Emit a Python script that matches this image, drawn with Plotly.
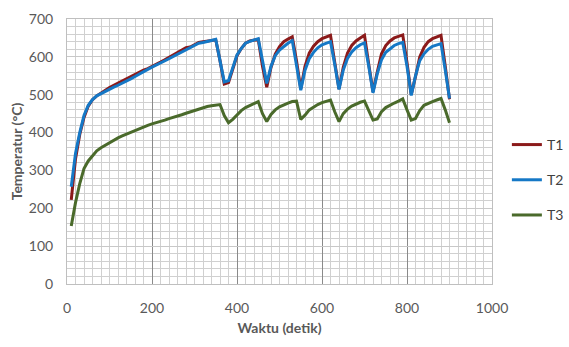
import plotly.graph_objects as go

time_s = list(range(10, 901, 10))

T1 = [222, 330, 395, 440, 470, 487, 497, 505, 513, 519,
      525, 531, 537, 543, 549, 555, 560, 565, 569, 574,
      580, 586, 592, 598, 605, 612, 618, 624, 626, 632,
      638, 640, 642, 644, 645, 590, 528, 532, 568, 603,
      622, 636, 642, 645, 646, 575, 520, 572, 607, 627,
      640, 647, 653, 590, 515, 575, 610, 628, 640, 648,
      653, 657, 585, 515, 572, 610, 630, 642, 650, 657,
      580, 508, 560, 608, 630, 642, 650, 655, 658, 585,
      500, 548, 600, 625, 640, 648, 653, 657, 575, 488]

T2 = [257, 345, 400, 445, 472, 487, 497, 503, 510, 515,
      520, 525, 530, 536, 542, 548, 555, 561, 567, 573,
      578, 583, 589, 595, 601, 607, 613, 618, 623, 630,
      636, 638, 640, 643, 646, 590, 534, 537, 570, 605,
      622, 636, 641, 645, 648, 590, 530, 575, 603, 618,
      628, 636, 643, 580, 512, 565, 595, 612, 624, 632,
      637, 640, 580, 514, 565, 596, 613, 624, 632, 637,
      575, 505, 555, 592, 612, 622, 630, 635, 638, 575,
      498, 550, 590, 608, 620, 628, 632, 635, 565, 490]

T3 = [153, 215, 265, 305, 325, 340, 352, 360, 367, 373,
      380, 386, 391, 396, 400, 405, 409, 414, 419, 423,
      426, 430, 433, 437, 440, 443, 447, 451, 455, 459,
      463, 466, 469, 471, 473, 474, 445, 426, 435, 448,
      458, 466, 472, 477, 482, 450, 429, 448, 460, 468,
      474, 478, 482, 483, 435, 446, 460, 468, 474, 479,
      483, 486, 455, 429, 450, 462, 470, 476, 480, 483,
      460, 433, 436, 455, 466, 473, 478, 483, 489, 460,
      433, 437, 458, 472, 478, 482, 486, 490, 460, 426]

series_names = ["T1", "T2", "T3"]
series_colors = ["#8B1A1A", "#1578C6", "#4A6A2B"]

fig = go.Figure()
for i, (name, vals, col) in enumerate(zip(series_names, [T1, T2, T3], series_colors)):
    fig.add_trace(go.Scatter(x=time_s, y=vals, mode="lines", name=name,
                             legendgroup=name,
                             line=dict(color=col, width=3)))

font_fam = "Lato, 'Liberation Sans', sans-serif"
fig.update_layout(
    width=569, height=347,
    margin=dict(l=67, r=77, t=19, b=63, autoexpand=False),
    paper_bgcolor="white", plot_bgcolor="white",
    font=dict(family=font_fam, color="#595959", size=13),
    legend=dict(x=1.035, xanchor="left", y=0.585, yanchor="top",
                traceorder="grouped", tracegroupgap=14,
                font=dict(size=14, color="#404040"),
                itemwidth=30, bgcolor="rgba(0,0,0,0)"),
    showlegend=True,
)
fig.update_xaxes(range=[0, 1000], dtick=200, tick0=0, automargin=False,
                 showgrid=True, gridcolor="#8a8a8a", gridwidth=1,
                 minor=dict(dtick=20, showgrid=True, gridcolor="#d0d0d0", gridwidth=1),
                 showline=True, linecolor="#bfbfbf", mirror=True,
                 zeroline=False, ticks="", ticklabelstandoff=11,
                 tickfont=dict(size=14, color="#595959"),
                 title=dict(text="<b>Waktu (detik)</b>", font=dict(size=14, color="#595959"), standoff=8))
fig.update_yaxes(range=[0, 700], dtick=100, tick0=0, automargin=False,
                 showgrid=True, gridcolor="#c8c8c8", gridwidth=1,
                 minor=dict(dtick=20, showgrid=True, gridcolor="#d0d0d0", gridwidth=1),
                 showline=True, linecolor="#bfbfbf", mirror=True,
                 zeroline=False, ticks="", ticklabelstandoff=10,
                 tickfont=dict(size=14, color="#595959"),
                 title=dict(text="<b>Temperatur (°C)</b>", font=dict(size=14, color="#595959"), standoff=2))

fig.write_html("out.html", config={"displayModeBar": False},
               post_script="document.body.style.margin='0px';document.body.style.overflow='hidden';")
